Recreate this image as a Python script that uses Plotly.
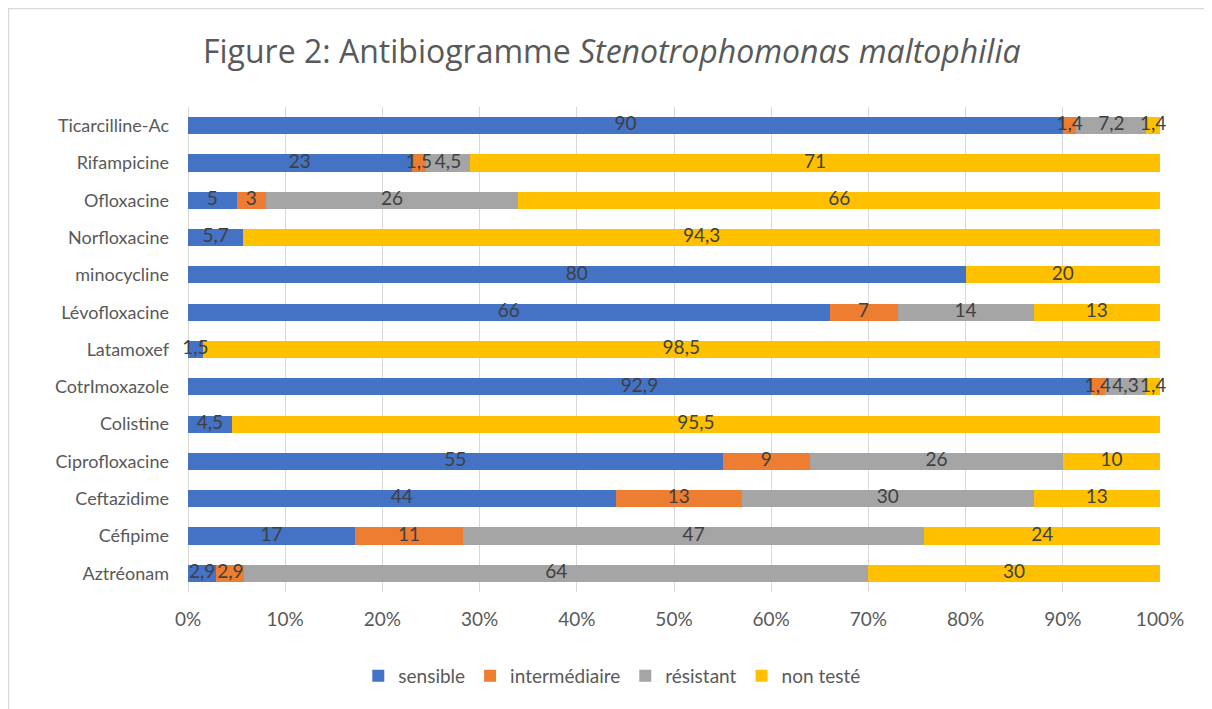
import plotly.graph_objects as go

categories = ["Ticarcilline-Ac", "Rifampicine", "Ofloxacine", "Norfloxacine", "minocycline",
              "Lévofloxacine", "Latamoxef", "CotrImoxazole", "Colistine", "Ciprofloxacine",
              "Ceftazidime", "Céfipime", "Aztréonam"]
sensible      = [90, 23, 5, 5.7, 80, 66, 1.5, 92.9, 4.5, 55, 44, 17, 2.9]
intermediaire = [1.4, 1.5, 3, 0, 0, 7, 0, 1.4, 0, 9, 13, 11, 2.9]
resistant     = [7.2, 4.5, 26, 0, 0, 14, 0, 4.3, 0, 26, 30, 47, 64]
non_teste     = [1.4, 71, 66, 94.3, 20, 13, 98.5, 1.4, 95.5, 10, 13, 24, 30]
tick_vals = [0, 10, 20, 30, 40, 50, 60, 70, 80, 90, 100]
tick_text = ["0%", "10%", "20%", "30%", "40%", "50%", "60%", "70%", "80%", "90%", "100%"]

series = [("sensible", sensible, "#4472C4"),
          ("intermédiaire", intermediaire, "#ED7D31"),
          ("résistant", resistant, "#A5A5A5"),
          ("non testé", non_teste, "#FFC000")]

FONT = "Lato"
TITLE_FONT = "Open Sans"

def fmt(v):
    return ("%g" % v).replace(".", ",")

fig = go.Figure()
for name, vals, color in series:
    fig.add_trace(go.Bar(
        y=categories, x=vals, name=name, orientation="h",
        marker=dict(color=color, line=dict(width=0)),
        hoverinfo="x+y+name",
    ))

# data labels on top of all bars, centred in each (normalised) segment
totals = [sum(s[1][i] for s in series) for i in range(len(categories))]
cum = [0.0] * len(categories)
lab_x, lab_y, lab_t = [], [], []
for name, vals, color in series:
    for i, v in enumerate(vals):
        if v:
            w = v / totals[i] * 100
            lab_x.append(cum[i] + w / 2)
            lab_y.append(categories[i])
            lab_t.append(fmt(v))
            cum[i] += w
fig.add_trace(go.Scatter(
    x=lab_x, y=lab_y, text=lab_t, mode="text", textposition="middle center",
    textfont=dict(family=FONT, size=19, color="#404040"),
    showlegend=False, hoverinfo="skip", cliponaxis=False,
))

n = len(categories)
# page body has an 8px margin: figure is 1204x701 placed at (8, 8)
fig.update_layout(
    barmode="stack", barnorm="percent", bargap=0.54,
    width=1204, height=701,
    margin=dict(l=180, r=52, t=99, b=117),
    paper_bgcolor="white", plot_bgcolor="white",
    font=dict(family=FONT, size=18, color="#595959"),
    title=dict(
        text="Figure 2: Antibiogramme <i>Stenotrophomonas maltophilia</i>",
        font=dict(family=TITLE_FONT, size=32, color="#595959"),
        x=0.436, xref="paper", xanchor="center",
        y=1 - 44 / 701, yref="container", yanchor="middle"),
    legend=dict(orientation="h", x=0.436, xanchor="center", y=-0.173, yanchor="middle",
                font=dict(family=FONT, size=19, color="#595959"),
                itemclick=False, traceorder="normal"),
    xaxis=dict(range=[0, 100], tickvals=tick_vals, ticktext=tick_text,
               showgrid=True, gridcolor="#D9D9D9", gridwidth=1,
               zeroline=True, zerolinecolor="#D9D9D9", zerolinewidth=1,
               showline=False, ticks="", ticklabelstandoff=14,
               tickfont=dict(family=FONT, size=19, color="#595959")),
    yaxis=dict(type="category", categoryorder="array", categoryarray=categories,
               range=[n - 0.5, -0.5], showgrid=False, showline=False, ticks="",
               ticklabelstandoff=18,
               tickfont=dict(family=FONT, size=18, color="#595959")),
    shapes=[dict(type="rect", xref="paper", yref="paper",
                 x0=(8.5 - 188) / 972, x1=1.2, y0=-0.6, y1=(592 - 8.5) / 485,
                 line=dict(color="#D9D9D9", width=1.5), fillcolor="rgba(0,0,0,0)",
                 layer="below")],
)

fig.write_html("out.html")
